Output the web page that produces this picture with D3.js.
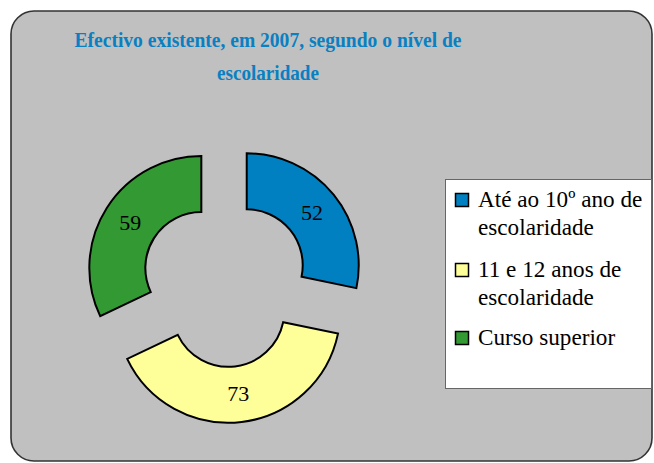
<!DOCTYPE html>
<html><head><meta charset="utf-8">
<script src="https://cdn.jsdelivr.net/npm/d3@7"></script>
<style>html,body{margin:0;padding:0;background:#fff;}svg{display:block;}
svg text{font-family:"Liberation Serif","Times New Roman","DejaVu Serif",serif;}</style>
</head><body>
<svg id="c" width="654" height="463"></svg>
<script>
const categories = ["Até ao 10º ano de escolaridade", "11 e 12 anos de escolaridade", "Curso superior"];
const legendLines = [["Até ao 10º ano de", "escolaridade"], ["11 e 12 anos de", "escolaridade"], ["Curso superior"]];
const values = [52, 73, 59];
const colors = ["#0080C0", "#FFFF99", "#339933"];
const titleLines = ["Efectivo existente, em 2007, segundo o nível de", "escolaridade"];

const svg = d3.select("#c");

// panel
svg.append("rect").attr("x", 11).attr("y", 11).attr("width", 641).attr("height", 450)
  .attr("rx", 23).attr("ry", 23).attr("fill", "#C0C0C0").attr("stroke", "#333").attr("stroke-width", 1.6);

// title
const tWidths = [387, 102];
const tBase = [47, 80];
titleLines.forEach((t, i) => {
  svg.append("text").attr("x", 268).attr("y", tBase[i]).attr("text-anchor", "middle")
    .attr("font-weight", "bold").attr("font-size", 21.5)
    .attr("fill", "#0880C2").attr("textLength", tWidths[i]).attr("lengthAdjust", "spacingAndGlyphs")
    .text(t);
});

// donut
const cx = 225, cy = 283, rOut = 112, rIn = 56, explode = 28;
const pie = d3.pie().sort(null).value(d => d)(values);
const arc = d3.arc().innerRadius(rIn).outerRadius(rOut);
const g = svg.append("g").attr("transform", `translate(${cx},${cy})`);
const slices = g.selectAll("g.s").data(pie).enter().append("g").attr("class", "s")
  .attr("transform", d => {
    const a = (d.startAngle + d.endAngle) / 2;
    return `translate(${explode * Math.sin(a)},${-explode * Math.cos(a)})`;
  });
slices.append("path").attr("d", arc).attr("fill", (d, i) => colors[i])
  .attr("stroke", "#000").attr("stroke-width", 2).attr("stroke-linejoin", "miter");
slices.append("text").attr("transform", d => `translate(${arc.centroid(d)})`)
  .attr("text-anchor", "middle").attr("dy", "0.33em")
  .attr("font-size", 22).attr("fill", "#000")
  .text(d => d.data);

// legend
svg.append("rect").attr("x", 445.5).attr("y", 179.5).attr("width", 206).attr("height", 209)
  .attr("fill", "#fff").attr("stroke", "#666").attr("stroke-width", 1);
const swY = [193.5, 263.5, 331.5];
const lineBases = [[206.7, 235], [276.5, 305], [345]];
categories.forEach((c, i) => {
  svg.append("rect").attr("x", 455.5).attr("y", swY[i]).attr("width", 13).attr("height", 13)
    .attr("fill", colors[i]).attr("stroke", "#000").attr("stroke-width", 1.5);
  legendLines[i].forEach((ln, j) => {
    svg.append("text").attr("x", 478).attr("y", lineBases[i][j])
      .attr("font-size", 23.2).attr("fill", "#000").text(ln);
  });
});
</script>
</body></html>
